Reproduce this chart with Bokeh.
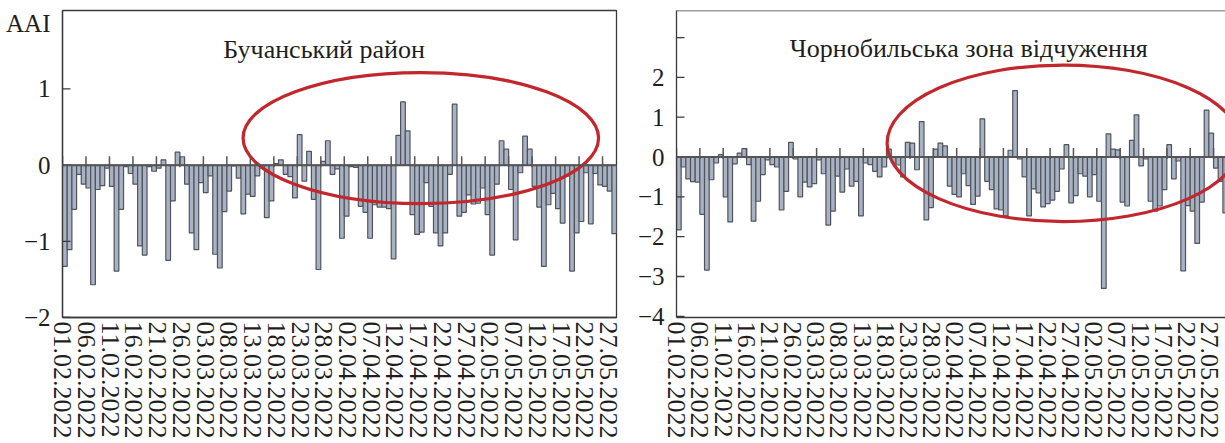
from bokeh.plotting import figure
from bokeh.layouts import row
from bokeh.models import Range1d, LinearAxis, FixedTicker, Label, Span
from bokeh.embed import file_html
from bokeh.resources import INLINE

# ---------------- data ----------------
date_labels = ["01.02.2022", "06.02.2022", "11.02.2022", "16.02.2022", "21.02.2022",
               "26.02.2022", "03.03.2022", "08.03.2022", "13.03.2022", "18.03.2022",
               "23.03.2022", "28.03.2022", "02.04.2022", "07.04.2022", "12.04.2022",
               "17.04.2022", "22.04.2022", "27.04.2022", "02.05.2022", "07.05.2022",
               "12.05.2022", "17.05.2022", "22.05.2022", "27.05.2022"]

buch_title = "Бучанський район"
chorn_title = "Чорнобильська зона відчуження"
y_name = "AAI"

# daily AAI, starting 01.02.2022
buch_aai = [-1.33, -1.11, -0.58, -0.12, -0.25, -0.30, -1.57, -0.32, -0.27, -0.04,
            -0.28, -1.39, -0.58, -0.02, -0.11, -0.25, -1.06, -1.18, -0.02, -0.08,
            -0.04, 0.07, -1.25, -0.47, 0.17, 0.11, -0.25, -0.89, -1.11, -0.23,
            -0.36, -0.14, -1.17, -1.35, -0.61, -0.34, -0.01, -0.17, -0.64, -0.38,
            -0.41, -0.14, -0.04, -0.69, -0.47, 0.02, 0.07, -0.12, -0.15, -0.43,
            0.40, -0.21, 0.18, -0.45, -1.37, 0.05, 0.32, -0.12, -0.05, -0.96,
            -0.67, -0.02, -0.03, -0.54, -0.62, -0.96, -0.52, -0.55, -0.55, -0.57,
            -1.23, 0.39, 0.83, 0.45, -0.65, -0.91, -0.88, -0.23, -0.54, -0.89,
            -1.06, -0.89, -0.12, 0.80, -0.67, -0.62, -0.39, -0.51, -0.50, -0.30,
            -0.65, -1.18, -0.25, 0.32, 0.21, -0.32, -0.98, -0.10, 0.38, 0.21,
            -0.28, -0.55, -1.33, -0.52, -0.37, -0.57, -0.76, -0.14, -1.39, -0.89,
            -0.74, -0.10, -0.77, -0.11, -0.26, -0.28, -0.34, -0.90]

chorn_aai = [-1.83, -0.25, -0.55, -0.62, -0.63, -1.44, -2.84, -0.57, -0.15, 0.06,
             -1.00, -1.63, -0.17, 0.10, 0.21, -0.19, -1.61, -1.11, -0.44, -0.07,
             -0.19, -0.25, -1.33, -0.86, 0.37, -0.05, -1.00, -0.63, -0.75, -0.67,
             -0.07, -0.42, -1.71, -1.36, -0.48, -0.88, -0.30, -0.73, -0.61, -1.48,
             -0.15, -0.19, -0.36, -0.50, -0.25, 0.20, -0.15, -0.20, -0.50, 0.37,
             0.35, -0.32, 0.89, -1.58, -1.27, 0.20, 0.35, 0.28, -0.73, -0.94,
             -1.00, -0.42, -0.72, -1.19, -0.98, 0.96, -0.61, -0.82, -1.30, -1.33,
             -1.48, 0.17, 1.67, -0.05, -0.50, -1.48, -0.80, -0.90, -1.25, -1.17,
             -1.08, -0.86, -0.30, 0.31, -1.15, -0.97, -0.42, -0.48, -1.00, -0.44,
             -1.11, -3.30, 0.58, 0.20, 0.18, -1.13, -1.23, 0.42, 1.06, -0.22,
             -0.05, -1.11, -1.36, -1.23, -0.82, 0.31, -0.55, -0.10, -2.86, -1.22,
             -1.36, -2.17, -1.13, 1.18, 0.60, -0.28, -0.61, -1.40]

buch_yticks = [-2, -1, 0, 1]
chorn_yticks = [-4, -3, -2, -1, 0, 1, 2, 3]
chorn_unlabeled = [3]
buch_name_at = 1.86     # where the axis name "AAI" sits on the left axis

# highlighted period: (centre day, width in days, centre value, height)
buch_ellipse = (76.3, 75.7, 0.355, 1.72)
chorn_ellipse = (82.9, 75.6, 0.345, 3.93)

# ---------------- style ----------------
FONT = "Liberation Serif"
TXT = "#1e1e1e"
FRAME = "#3a3a3a"
BAR_FILL = "#a8b2c3"
BAR_LINE = "#4f545c"
ZERO = "#555555"
RED = "#c1272d"
FRAME_H = 307
STUB_UP_PX = 9
STUB_DOWN_PX = 2
YTICK_PX = 8
label_days = [5 * i for i in range(len(date_labels))]


def minus(v):
    return str(v).replace("-", "\u2212")


def make_panel(values, xr, label_xr, yr, yticks, unlabeled, name_tick, title, title_pos,
               ell, frame_width, min_left, min_right, full_outline):
    p = figure(frame_width=frame_width, frame_height=FRAME_H,
               x_range=Range1d(*xr), y_range=Range1d(*yr),
               x_axis_location=None,
               min_border_left=min_left, min_border_right=min_right,
               min_border_top=10, min_border_bottom=0,
               output_backend="svg", toolbar_location=None)
    p.grid.visible = False
    p.background_fill_color = "white"
    p.border_fill_color = "white"
    if full_outline:
        p.outline_line_color = FRAME
        p.outline_line_width = 1.3
    else:
        p.outline_line_color = None

    days = [i + 0.5 for i in range(len(values))]
    p.vbar(x=days, top=values, bottom=0, width=1,
           fill_color=BAR_FILL, line_color=BAR_LINE, line_width=1.2)

    # zero line with small ticks every five days
    per_px_y = (yr[1] - yr[0]) / FRAME_H
    p.segment(x0=label_days, x1=label_days,
              y0=[-STUB_DOWN_PX * per_px_y] * len(label_days),
              y1=[STUB_UP_PX * per_px_y] * len(label_days),
              line_color=ZERO, line_width=1.5)
    p.add_layout(Span(location=0, dimension="width", line_color=ZERO, line_width=2))

    # inward y tick marks
    per_px_x = (xr[1] - xr[0]) / frame_width
    p.segment(x0=[xr[0]] * len(yticks), x1=[xr[0] + YTICK_PX * per_px_x] * len(yticks),
              y0=yticks, y1=yticks, line_color=FRAME, line_width=1.3)

    ex, ew, ey, eh = ell
    p.ellipse(x=[ex], y=[ey], width=[ew], height=[eh],
              fill_color=None, line_color=RED, line_width=3.2)

    # y axis labels
    ya = p.yaxis[0]
    overrides = {v: ("" if v in unlabeled else minus(v)) for v in yticks}
    all_ticks = list(yticks)
    if name_tick is not None:
        all_ticks.append(name_tick)
        overrides[name_tick] = y_name
    ya.ticker = FixedTicker(ticks=all_ticks)
    ya.major_label_overrides = overrides
    ya.major_tick_in = 0
    ya.major_tick_out = 0
    ya.minor_tick_line_color = None
    ya.axis_line_color = FRAME
    ya.axis_line_width = 1.3
    ya.major_label_standoff = 12
    ya.major_label_text_font = FONT
    ya.major_label_text_font_size = "25px"
    ya.major_label_text_color = TXT

    # date labels (own scale, as in the source figure)
    p.extra_x_ranges = {"lab": Range1d(*label_xr)}
    xa = LinearAxis(x_range_name="lab", ticker=FixedTicker(ticks=label_days),
                    major_label_overrides={d: s for d, s in zip(label_days, date_labels)},
                    major_label_orientation="vertical",
                    major_tick_in=0, major_tick_out=0, minor_tick_line_color=None,
                    axis_line_color=FRAME, axis_line_width=1.3,
                    major_label_standoff=4, major_label_text_font=FONT,
                    major_label_text_font_size="26px", major_label_text_color=TXT)
    p.add_layout(xa, "below")

    if not full_outline:
        top_axis = LinearAxis(fixed_location=yr[1], ticker=FixedTicker(ticks=[]),
                              axis_line_color=FRAME, axis_line_width=1.3,
                              major_tick_in=0, major_tick_out=0,
                              minor_tick_line_color=None)
        p.add_layout(top_axis, "above")

    tx, ty = title_pos
    p.add_layout(Label(x=tx, y=ty, text=title, text_font=FONT, text_font_size="26px",
                       text_color=TXT, text_align="center", text_baseline="alphabetic"))
    return p


left = make_panel(buch_aai, (0.0, 117.97), (-0.05, 116.68), (-2.0, 2.03), buch_yticks, [],
                  buch_name_at, buch_title, (55.7, 1.52), buch_ellipse, 554, 62, 6, True)

right = make_panel(chorn_aai, (0.0, 117.56), (-0.05, 118.45), (-4.03, 3.68), chorn_yticks,
                   chorn_unlabeled, None, chorn_title, (62.6, 2.725), chorn_ellipse,
                   549, 54, 0, False)

layout = row(left, right)
open("out.html", "w").write(file_html(layout, INLINE))
